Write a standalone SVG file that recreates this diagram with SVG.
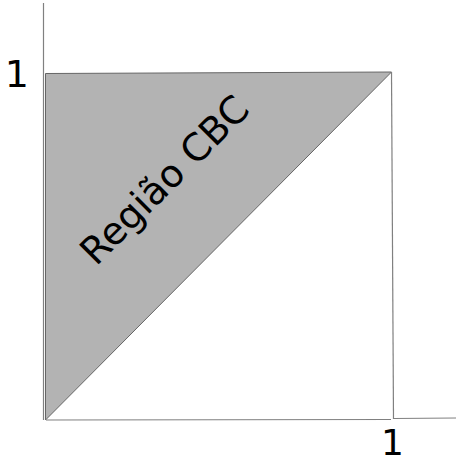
<svg xmlns="http://www.w3.org/2000/svg" width="456" height="462" viewBox="0 0 456 462">
<style>
.ax{stroke:#808080;stroke-width:1.2;fill:none}
.lbl{font-family:"DejaVu Sans",sans-serif;fill:#000}
</style>
<rect width="456" height="462" fill="#fff"/>
<g id="region">
<path d="M45.5,420 L45.5,73.5 L391.5,72 Z" fill="#b3b3b3" stroke="#666" stroke-width="1"/>
<text class="lbl" font-size="38" transform="rotate(-45 96 267)" x="96" y="267">Região CBC</text>
</g>
<g id="axes">
<line class="ax" x1="43.5" y1="3" x2="43.5" y2="420"/>
<line class="ax" x1="46" y1="420" x2="391" y2="419.5"/>
<line class="ax" x1="394" y1="418.5" x2="456" y2="418"/>
<line class="ax" x1="391.5" y1="72" x2="393.5" y2="419"/>
</g>
<g id="labels">
<text class="lbl" font-size="38" x="4.8" y="87">1</text>
<text class="lbl" font-size="36" x="381" y="455">1</text>
</g>
</svg>
